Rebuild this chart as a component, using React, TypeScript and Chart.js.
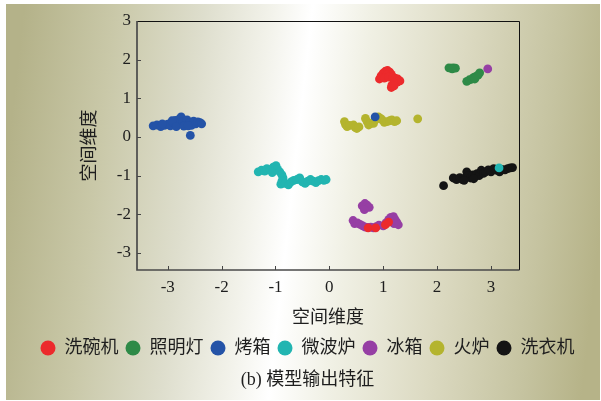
import React, { useEffect, useRef } from "react";
import { Chart, registerables } from "chart.js";

Chart.register(...registerables);

// ---------- data ----------
const seriesNames = ["洗碗机", "照明灯", "烤箱", "微波炉", "冰箱", "火炉", "洗衣机"];
const seriesColors = ["#ec2a2c", "#2e8a47", "#2453a7", "#22b5b1", "#963fa4", "#b4b42e", "#141414"];

const dishwasher: [number, number][] = [
  [0.93, 1.5], [0.96, 1.58], [1.0, 1.65], [1.04, 1.7], [1.08, 1.72], [1.12, 1.68], [1.15, 1.62],
  [1.06, 1.6], [1.02, 1.52], [1.1, 1.55], [1.18, 1.55], [1.22, 1.52], [1.27, 1.5], [1.31, 1.45],
  [1.26, 1.42], [1.2, 1.4], [1.16, 1.34], [1.15, 1.28], [1.2, 1.32],
  [0.72, -2.35], [0.86, -2.35], [1.04, -2.27], [1.1, -2.2],
];
const lighting: [number, number][] = [
  [2.22, 1.79], [2.26, 1.78], [2.3, 1.79], [2.34, 1.78], [2.28, 1.76],
  [2.55, 1.44], [2.6, 1.48], [2.65, 1.5], [2.68, 1.54], [2.72, 1.57], [2.76, 1.6], [2.79, 1.66], [2.7, 1.5],
];
const oven: [number, number][] = [
  [-3.27, 0.29], [-3.2, 0.31], [-3.13, 0.27], [-3.06, 0.3], [-3.0, 0.33], [-2.95, 0.29], [-2.9, 0.37],
  [-2.86, 0.43], [-2.82, 0.32], [-2.78, 0.47], [-2.75, 0.52], [-2.72, 0.4], [-2.68, 0.33], [-2.64, 0.44],
  [-2.6, 0.36], [-2.56, 0.3], [-2.52, 0.41], [-2.48, 0.34], [-2.44, 0.39], [-2.4, 0.37], [-2.37, 0.34],
  [-2.92, 0.42], [-2.84, 0.27], [-2.7, 0.28], [-2.62, 0.29], [-3.1, 0.34], [-2.58, 0.04],
  [0.85, 0.52],
];
const microwave: [number, number][] = [
  [-1.32, -0.9], [-1.26, -0.86], [-1.2, -0.88], [-1.16, -0.82], [-1.1, -0.85], [-1.04, -0.78],
  [-0.99, -0.74], [-0.96, -0.84], [-1.06, -0.92], [-0.92, -0.9], [-0.88, -0.98], [-0.86, -1.06],
  [-0.88, -1.14], [-0.9, -1.22], [-0.82, -1.2], [-0.76, -1.24], [-0.71, -1.16], [-0.66, -1.12],
  [-0.6, -1.1], [-0.55, -1.06], [-0.5, -1.16], [-0.45, -1.2], [-0.4, -1.14], [-0.35, -1.1],
  [-0.3, -1.14], [-0.25, -1.18], [-0.2, -1.13], [-0.15, -1.1], [-0.1, -1.12], [-0.06, -1.1],
  [-2.83, 0.31], [3.15, -0.8],
];
const fridge: [number, number][] = [
  [0.61, -1.78], [0.66, -1.72], [0.7, -1.76], [0.74, -1.82], [0.65, -1.88],
  [0.44, -2.16], [0.47, -2.24], [0.52, -2.22], [0.57, -2.26], [0.62, -2.3], [0.67, -2.33],
  [0.72, -2.34], [0.77, -2.33], [0.82, -2.35], [0.87, -2.32], [0.92, -2.28], [1.0, -2.3],
  [1.05, -2.22], [1.1, -2.14], [1.14, -2.08], [1.19, -2.06], [1.22, -2.14], [1.25, -2.2],
  [1.28, -2.27], [1.2, -2.24],
  [2.94, 1.76],
];
const stove: [number, number][] = [
  [0.28, 0.4], [0.3, 0.32], [0.33, 0.27], [0.38, 0.3], [0.45, 0.31], [0.48, 0.25], [0.51, 0.22],
  [0.55, 0.26], [0.67, 0.48], [0.7, 0.4], [0.73, 0.31], [0.77, 0.35], [0.82, 0.35], [0.86, 0.45],
  [0.91, 0.52], [0.95, 0.48], [0.98, 0.44], [1.02, 0.38], [1.07, 0.4], [1.12, 0.42], [1.16, 0.44],
  [1.21, 0.4], [1.25, 0.42], [1.64, 0.47],
];
const washer: [number, number][] = [
  [2.12, -1.26], [2.3, -1.06], [2.36, -1.1], [2.42, -1.05], [2.47, -1.1], [2.52, -1.06], [2.55, -0.9],
  [2.58, -1.0], [2.62, -1.06], [2.66, -0.98], [2.7, -1.02], [2.74, -0.95], [2.78, -1.0], [2.82, -0.86],
  [2.86, -0.94], [2.9, -0.9], [2.95, -0.85], [3.0, -0.9], [3.05, -0.82], [3.1, -0.86], [3.16, -0.9],
  [3.2, -0.84], [3.26, -0.85], [3.31, -0.82], [3.36, -0.8], [3.4, -0.79], [2.5, -1.12], [2.68, -1.08],
];
const seriesData = [dishwasher, lighting, oven, microwave, fridge, stove, washer];

const xTicks = [-3, -2, -1, 0, 1, 2, 3];
const yTicks = [-3, -2, -1, 0, 1, 2, 3];
const xRange = [-3.57, 3.52];
const yRange = [-3.44, 3];
const xTitle = "空间维度";
const yTitle = "空间维度";
const caption = "(b) 模型输出特征";

// ---------- style ----------
const FONT = '"Liberation Serif", "Noto Sans CJK SC", serif';
const TEXT = "#1e1e1e";

const panelPlugin = {
  id: "panelPlugin",
  beforeDraw(chart: any) {
    const ctx = chart.ctx;
    ctx.save();
    ctx.fillStyle = "#ffffff";
    ctx.fillRect(0, 0, chart.width, chart.height);
    const g = ctx.createLinearGradient(6, 167, 600, 234);
    g.addColorStop(0, "rgb(180,178,137)");
    g.addColorStop(0.15, "rgb(201,200,168)");
    g.addColorStop(0.3, "rgb(222,222,205)");
    g.addColorStop(0.41, "rgb(242,242,234)");
    g.addColorStop(0.48, "rgb(255,255,255)");
    g.addColorStop(0.58, "rgb(240,240,228)");
    g.addColorStop(0.74, "rgb(220,218,194)");
    g.addColorStop(0.9, "rgb(197,195,160)");
    g.addColorStop(1, "rgb(182,179,136)");
    ctx.fillStyle = g;
    ctx.fillRect(6, 4, 594, 396);
    ctx.restore();
  },
  afterDatasetsDraw(chart: any) {
    const { ctx, chartArea: a, scales } = chart;
    ctx.save();
    // inward tick marks
    ctx.strokeStyle = "#444";
    ctx.lineWidth = 1;
    ctx.beginPath();
    for (const t of scales.x.ticks) {
      const px = Math.round(scales.x.getPixelForValue(t.value)) + 0.5;
      ctx.moveTo(px, a.bottom);
      ctx.lineTo(px, a.bottom - 4);
    }
    for (const t of scales.y.ticks) {
      const py = Math.round(scales.y.getPixelForValue(t.value)) + 0.5;
      ctx.moveTo(a.left, py);
      ctx.lineTo(a.left + 4, py);
    }
    ctx.stroke();
    // top and right frame
    ctx.strokeStyle = "#111";
    ctx.lineWidth = 1;
    ctx.beginPath();
    ctx.moveTo(a.left, Math.round(a.top) + 0.5);
    ctx.lineTo(Math.round(a.right) + 0.5, Math.round(a.top) + 0.5);
    ctx.lineTo(Math.round(a.right) + 0.5, a.bottom);
    ctx.stroke();
    // left and bottom axes
    ctx.strokeStyle = "#4a4a4a";
    ctx.lineWidth = 1.7;
    ctx.beginPath();
    ctx.moveTo(a.left, a.top);
    ctx.lineTo(a.left, a.bottom);
    ctx.lineTo(a.right + 0.5, a.bottom);
    ctx.stroke();
    ctx.restore();
  },
};

export default function App() {
  const ref = useRef<HTMLCanvasElement | null>(null);

  useEffect(() => {
    if (!ref.current) return;
    const chart = new Chart(ref.current, {
      type: "scatter",
      data: {
        datasets: seriesNames.map((name, i) => ({
          label: name,
          data: seriesData[i].map(([x, y]) => ({ x, y })),
          backgroundColor: seriesColors[i],
          borderColor: seriesColors[i],
          borderWidth: 0,
          pointRadius: 4.4,
          pointHoverRadius: 4.4,
          pointStyle: "circle",
        })),
      },
      options: {
        responsive: false,
        animation: false,
        devicePixelRatio: 1,
        events: [],
        layout: { padding: { left: 14, right: 0, top: 21, bottom: 2 } },
        scales: {
          x: {
            type: "linear",
            position: "bottom",
            min: xRange[0],
            max: xRange[1],
            afterBuildTicks: (s: any) => {
              s.ticks = xTicks.map((v) => ({ value: v }));
            },
            afterFit: (s: any) => {
              s.height = 62;
            },
            grid: { display: false, drawTicks: false },
            border: { display: false },
            ticks: { padding: 7, color: TEXT, font: { family: FONT, size: 17 } },
            title: {
              display: true,
              text: xTitle,
              color: TEXT,
              font: { family: FONT, size: 18 },
              padding: { top: 0, bottom: 3.2 },
            },
          },
          y: {
            type: "linear",
            position: "left",
            min: yRange[0],
            max: yRange[1],
            afterBuildTicks: (s: any) => {
              s.ticks = yTicks.map((v) => ({ value: v }));
            },
            afterFit: (s: any) => {
              s.width = 123;
            },
            grid: { display: false, drawTicks: false },
            border: { display: false },
            ticks: { padding: 6, color: TEXT, font: { family: FONT, size: 17 } },
            title: {
              display: true,
              text: yTitle,
              color: TEXT,
              font: { family: FONT, size: 18 },
              padding: { top: 65.7, bottom: 0 },
            },
          },
          yRight: {
            type: "linear",
            position: "right",
            display: true,
            grid: { display: false, drawTicks: false },
            border: { display: false },
            ticks: { display: false },
            afterFit: (s: any) => {
              s.width = 82;
            },
          },
        },
        plugins: {
          legend: {
            display: true,
            position: "bottom",
            labels: {
              usePointStyle: true,
              pointStyle: "circle",
              boxWidth: 15,
              boxHeight: 10.6,
              padding: 7,
              color: TEXT,
              font: { family: FONT, size: 18 },
            },
          },
          title: {
            display: true,
            text: caption,
            position: "bottom",
            color: TEXT,
            font: { family: FONT, size: 18, weight: "normal" },
            padding: { top: 2.2, bottom: 8.2 },
          },
          tooltip: { enabled: false },
        },
      },
      plugins: [panelPlugin],
    } as any);
    return () => chart.destroy();
  }, []);

  return (
    <div style={{ position: "fixed", left: 0, top: 0, width: 601, height: 401 }}>
      <canvas ref={ref} width={601} height={401} style={{ display: "block", width: 601, height: 401 }} />
    </div>
  );
}
